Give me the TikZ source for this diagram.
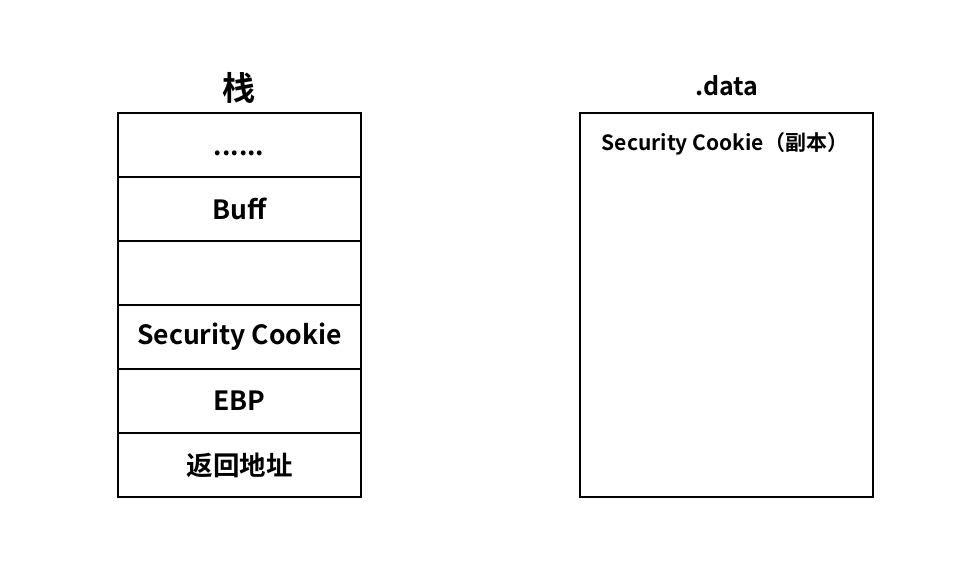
\documentclass[tikz,border=0pt]{standalone}
\usepackage{fontspec}
\setmainfont{Noto Sans CJK SC}[BoldFont={Noto Sans CJK SC Bold}]
\begin{document}
\begin{tikzpicture}[x=1pt,y=-1pt,
  cell/.style={draw=black,line width=2pt,minimum width=243pt,minimum height=64pt,inner sep=0pt,font=\bfseries\fontsize{26.5}{26.5}\selectfont,anchor=north west},
  title/.style={font=\bfseries\fontsize{25}{25}\selectfont}]
\useasboundingbox (0,0) rectangle (970,577);
\node[cell] (c1) at (117,112) {};
\node[font=\bfseries\fontsize{26}{26}\selectfont] (dots) at (239,153) {......};
\node[cell] (c2) at (117,176) {Buff};
\node[cell] (c3) at (117,240) {};
\node[cell] (c4) at (117,304) {Security Cookie};
\node[cell] (c5) at (117,368) {EBP};
\node[cell] (c6) at (117,432) {返回地址};
\node[title,font=\bfseries\fontsize{33}{33}\selectfont] (t1) at (239,88) {栈};
\node[draw=black,line width=2pt,minimum width=293pt,minimum height=384pt,inner sep=0pt,anchor=north west] (data) at (579,112) {};
\node[title] (t2) at (727,86) {.data};
\node[font=\bfseries\fontsize{21}{21}\selectfont] (sc) at (725,144) {Security Cookie（副本）};
\end{tikzpicture}
\end{document}
